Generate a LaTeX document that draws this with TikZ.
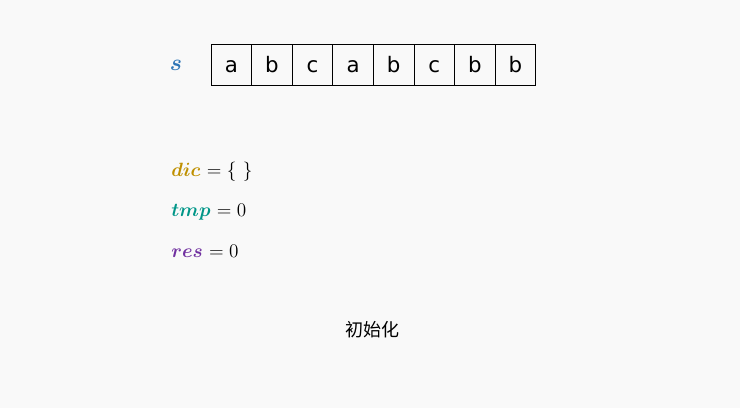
\documentclass[tikz,border=0pt]{standalone}
\usepackage{amsmath,bm}
\usepackage{fontspec}
\setsansfont{DejaVu Sans}
\newfontfamily\cjkfont{Noto Sans CJK SC}
\usetikzlibrary{positioning}
\definecolor{pageGray}{RGB}{249,249,249}
\definecolor{varBlue}{RGB}{46,117,182}
\definecolor{varGold}{RGB}{191,144,0}
\definecolor{varTeal}{RGB}{0,150,136}
\definecolor{varPurple}{RGB}{112,48,160}
\begin{document}
\begin{tikzpicture}[x=0.75pt,y=-0.75pt,
  cell/.style={draw,line width=0.6pt,minimum width=30.45pt,minimum height=30.75pt,
               inner sep=0pt,text height=12pt,text depth=0pt,
               font=\sffamily\fontsize{16}{19}\selectfont},
  var/.style={anchor=west,inner sep=0pt,font=\fontsize{14.5}{17}\selectfont}
]
\fill[pageGray] (0,0) rectangle (740,408);
% string s
\node[text=varBlue,font=\fontsize{16}{19}\selectfont] (s) at (176,65) {$\bm{s}$};
\foreach \ch [count=\i] in {a,b,c,a,b,c,b,b} {
  \node[cell] (c\i) at (190.7+40.6*\i,64.5) {\ch};
}
% variables
\node[var] (dic) at (171,172) {{\color{varGold}$\bm{dic}$} $=\{\ \}$};
\node[var] (tmp) at (171,212) {{\color{varTeal}$\bm{tmp}$} $=0$};
\node[var] (res) at (171,251) {{\color{varPurple}$\bm{res}$} $=0$};
% caption
\node[font=\cjkfont\fontsize{13.5}{16}\selectfont] (cap) at (372,330) {初始化};
\end{tikzpicture}
\end{document}
